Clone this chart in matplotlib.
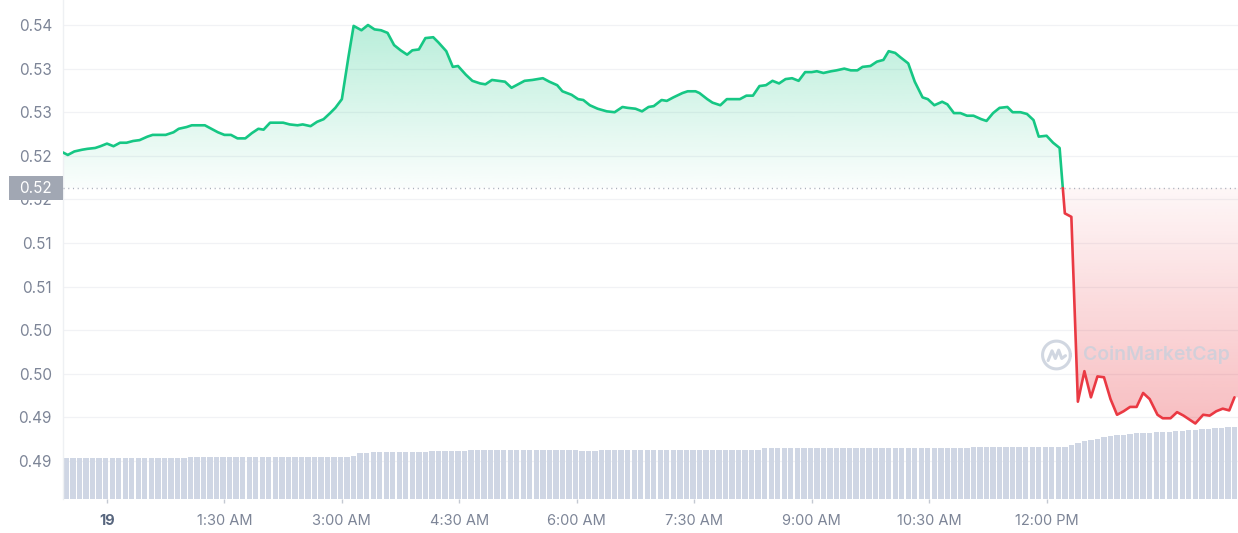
import numpy as np
import matplotlib
matplotlib.use("Agg")
import matplotlib.pyplot as plt
from matplotlib.patches import Rectangle
from matplotlib.path import Path
from matplotlib.transforms import blended_transform_factory, Affine2D, ScaledTranslation

plt.rcParams['font.family'] = ['Inter', 'DejaVu Sans']

# ---------------- data ----------------
# minutes relative to 00:00 of the 19th
price_minutes = [-34, -30, -25, -19, -15, -9, -5, 0, 5, 10, 15, 20, 25, 31, 35, 41, 45, 51, 55, 61,
                 65, 70, 75, 80, 85, 90, 95, 100, 106, 111, 116, 120, 125, 130, 135, 140, 146, 150, 156, 161,
                 166, 171, 175, 180, 185, 189, 195, 200, 205, 210, 215, 220, 225, 230, 234, 239, 244, 250, 254, 260,
                 265, 269, 275, 280, 286, 290, 295, 300, 305, 310, 315, 320, 326, 334, 339, 345, 349, 356, 361, 365,
                 370, 376, 383, 389, 395, 399, 405, 410, 415, 419, 425, 429, 434, 441, 445, 451, 454, 460, 464, 470,
                 475, 480, 485, 490, 495, 500, 505, 510, 515, 520, 525, 530, 535, 540, 544, 549, 555, 559, 565, 570,
                 575, 579, 585, 590, 595, 599, 604, 608, 614, 619, 625, 629, 634, 640, 644, 649, 654, 659, 664, 670,
                 674, 679, 684, 690, 694, 700, 705, 710, 714, 720, 725, 730, 734, 739, 744, 749, 754, 759, 764, 769,
                 774, 779, 784, 789, 794, 799, 805, 809, 815, 820, 825, 829, 834, 840, 845, 850, 855, 860, 864]
prices = [0.5254, 0.5251, 0.5255, 0.5257, 0.5258, 0.5259, 0.5261, 0.5264, 0.5261, 0.5265, 0.5265, 0.5267, 0.5268, 0.5272, 0.5274, 0.5274, 0.5274, 0.5277, 0.5281, 0.5283,
          0.5285, 0.5285, 0.5285, 0.5281, 0.5277, 0.5274, 0.5274, 0.5270, 0.5270, 0.5276, 0.5281, 0.5280, 0.5288, 0.5288, 0.5288, 0.5286, 0.5285, 0.5286, 0.5284, 0.5289,
          0.5292, 0.5299, 0.5305, 0.5315, 0.5363, 0.5399, 0.5394, 0.5400, 0.5395, 0.5394, 0.5391, 0.5377, 0.5371, 0.5366, 0.5371, 0.5372, 0.5385, 0.5386, 0.5380, 0.5370,
          0.5352, 0.5353, 0.5343, 0.5336, 0.5333, 0.5332, 0.5337, 0.5336, 0.5335, 0.5328, 0.5332, 0.5336, 0.5337, 0.5339, 0.5335, 0.5331, 0.5324, 0.5320, 0.5315, 0.5314,
          0.5308, 0.5304, 0.5301, 0.5300, 0.5306, 0.5305, 0.5304, 0.5301, 0.5306, 0.5307, 0.5314, 0.5313, 0.5317, 0.5322, 0.5324, 0.5324, 0.5322, 0.5315, 0.5311, 0.5308,
          0.5315, 0.5315, 0.5315, 0.5319, 0.5319, 0.5330, 0.5331, 0.5336, 0.5333, 0.5338, 0.5339, 0.5336, 0.5346, 0.5346, 0.5347, 0.5345, 0.5347, 0.5348, 0.5350, 0.5348,
          0.5348, 0.5352, 0.5353, 0.5358, 0.5360, 0.5370, 0.5368, 0.5363, 0.5356, 0.5335, 0.5317, 0.5315, 0.5308, 0.5312, 0.5309, 0.5299, 0.5299, 0.5296, 0.5296, 0.5292,
          0.5290, 0.5299, 0.5305, 0.5306, 0.5300, 0.5300, 0.5298, 0.5291, 0.5272, 0.5273, 0.5265, 0.5259, 0.5184, 0.5180, 0.4968, 0.5003, 0.4973, 0.4997, 0.4996, 0.4971,
          0.4953, 0.4957, 0.4962, 0.4962, 0.4978, 0.4971, 0.4953, 0.4949, 0.4949, 0.4956, 0.4952, 0.4948, 0.4943, 0.4953, 0.4952, 0.4957, 0.4960, 0.4958, 0.4973]
baseline_price = 0.5213
baseline_label = "0.52"

# volume bars (5-minute buckets, arbitrary units)
volume_start_minute = -31
volume_step_minutes = 5
volumes = [413, 413, 413, 413, 413, 413, 413, 413, 413, 413, 413, 413, 413, 413, 413, 413, 413, 413, 413,
           423, 423, 423, 423, 423, 423, 423, 423, 423, 423, 423, 423, 423, 423, 423, 423, 423, 423, 423, 423,
           423, 423, 423, 423, 423, 433, 457, 457, 467, 467, 467, 467, 473, 473, 473, 473, 473,
           480, 480, 480, 480, 480, 480,
           490, 490, 490, 490, 490, 490, 490, 490, 490, 490, 490, 490, 490, 490, 490, 490, 490,
           480, 480, 480,
           490, 490, 490, 490, 490, 490, 490, 490, 490, 490, 490, 490, 490, 490, 490, 490, 490, 490, 490, 490,
           490, 490, 490, 490, 490,
           507, 507, 507, 507, 507, 507, 507, 507, 507, 507, 507, 507, 507, 507, 507, 507, 507, 507, 507, 507,
           513, 513, 513, 513, 513, 513, 513, 513, 513, 513, 513, 513,
           523, 523, 523, 523, 523, 523, 523, 523, 523, 523, 523, 523, 523, 523, 523,
           540, 560, 580, 590, 605, 620, 630, 640, 645, 650, 657, 660, 663, 667, 670, 675, 680, 685, 690, 695,
           700, 705, 710, 715, 720, 725]

ytick_values = [0.540, 0.535, 0.530, 0.525, 0.520, 0.515, 0.510, 0.505, 0.500, 0.495, 0.490]
ytick_labels = ["0.54", "0.53", "0.53", "0.52", "0.52", "0.51", "0.51", "0.50", "0.50", "0.49", "0.49"]
xtick_values = [0, 90, 180, 270, 360, 450, 540, 630, 720]
xtick_labels = ["19", "1:30 AM", "3:00 AM", "4:30 AM", "6:00 AM", "7:30 AM", "9:00 AM", "10:30 AM", "12:00 PM"]

# ---------------- styling ----------------
GREEN = "#16c784"
RED = "#ea3943"
BAR = "#cfd6e4"
LABEL = "#7d8597"

W, H = 1238, 533
fig = plt.figure(figsize=(W / 100, H / 100), dpi=100)
ax = fig.add_axes([63 / W, 34 / H, 1175 / W, 499 / H])

t = np.array(price_minutes, dtype=float)
p = np.array(prices, dtype=float)
xmin, xmax = -33.7, 866.7
ymin, ymax = 0.48564, 0.54287
VOL_TOP = 4990.0

# volume bars: x in data (minutes), y as fraction of axes height
vol_trans = blended_transform_factory(ax.transData, Affine2D().scale(1, 1 / VOL_TOP) + ax.transAxes)
vt = volume_start_minute + volume_step_minutes * np.arange(len(volumes))
ax.bar(vt, volumes, width=4.1, color=BAR, linewidth=0, transform=vol_trans, zorder=2)

# split line at baseline crossing
tt, pp = [t[0]], [p[0]]
for i in range(1, len(t)):
    a, b = p[i - 1] - baseline_price, p[i] - baseline_price
    if a * b < 0:
        f = a / (a - b)
        tt.append(t[i - 1] + f * (t[i] - t[i - 1]))
        pp.append(baseline_price)
    tt.append(t[i]); pp.append(p[i])
tt = np.array(tt); pp = np.array(pp)

above = pp >= baseline_price - 1e-12
below = pp <= baseline_price + 1e-12

# fill extends to the right edge of the plot at the last price
tt_f = np.r_[tt, xmax]
pp_f = np.r_[pp, pp[-1]]
above_f = np.r_[above, above[-1]]
below_f = np.r_[below, below[-1]]


def grad_fill(where, top_alpha, bottom_alpha, color, y0, y1):
    poly = ax.fill_between(tt_f, pp_f, baseline_price, where=where, interpolate=True,
                           facecolor="none", edgecolor="none")
    rgb = matplotlib.colors.to_rgb(color)
    n = 256
    img = np.zeros((n, 2, 4))
    img[..., 0], img[..., 1], img[..., 2] = rgb
    img[..., 3] = np.linspace(bottom_alpha, top_alpha, n)[:, None]
    im = ax.imshow(img, extent=[xmin, xmax, y0, y1], origin="lower",
                   aspect="auto", zorder=1, interpolation="bilinear")
    paths = poly.get_paths()
    verts = np.concatenate([pth.vertices for pth in paths])
    codes = np.concatenate([pth.codes if pth.codes is not None else
                            np.r_[Path.MOVETO, [Path.LINETO] * (len(pth.vertices) - 1)]
                            for pth in paths])
    im.set_clip_path(Path(verts, codes), ax.transData)


grad_fill(above_f, 0.30, 0.02, GREEN, baseline_price, pp.max())
grad_fill(below_f, 0.04, 0.33, RED, pp.min(), baseline_price)

ax.plot(np.where(above, tt, np.nan), np.where(above, pp, np.nan), color=GREEN, lw=1.9,
        solid_joinstyle="round", solid_capstyle="round", zorder=4)
ax.plot(np.where(below, tt, np.nan), np.where(below, pp, np.nan), color=RED, lw=1.9,
        solid_joinstyle="round", solid_capstyle="round", zorder=4)

ax.axhline(baseline_price, color="#aab0bb", lw=1.0, ls=(0, (0.8, 2.6)), zorder=3)

ax.set_xlim(xmin, xmax)
ax.set_ylim(ymin, ymax)

ax.set_yticks(ytick_values)
ax.set_yticklabels(ytick_labels)
ax.tick_params(axis="y", length=0, pad=8, labelsize=11, labelcolor=LABEL)
ax.grid(axis="y", color="#f1f2f5", lw=0.9)
ax.set_axisbelow(True)

ax.set_xticks(xtick_values)
ax.set_xticklabels(xtick_labels)
ax.tick_params(axis="x", length=3, width=1, color="#c4c9d2", pad=8, labelsize=10.5, labelcolor=LABEL)
lab0 = ax.get_xticklabels()[0]
lab0.set_fontweight("bold")
lab0.set_color("#58667e")

for s in ["top", "right", "bottom"]:
    ax.spines[s].set_visible(False)
ax.spines["left"].set_color("#eef0f3")
ax.spines["left"].set_linewidth(1)

# current price marker
bt = blended_transform_factory(ax.transAxes, ax.transData)
box = Rectangle((-54 / 1175, baseline_price - 0.00141), 54 / 1175, 0.00282, transform=bt,
                facecolor="#a1a7b3", edgecolor="none", clip_on=False, zorder=10)
ax.add_patch(box)
ax.text(-27 / 1175, baseline_price, baseline_label, transform=bt, ha="center", va="center",
        fontsize=11, color="white", zorder=11, clip_on=False)

# watermark (logo ring + wave, and wordmark)
wm_color = "#c9d0dc"
logo_tr = Affine2D().scale(1 / 72.0) + fig.dpi_scale_trans + ScaledTranslation(0.8455, 0.2886, ax.transAxes)
theta = np.linspace(0, 2 * np.pi, 100)
ax.plot(10 * np.cos(theta), 10 * np.sin(theta), transform=logo_tr, color=wm_color,
        lw=2.2, alpha=0.85, zorder=3, clip_on=False)
wave_x = [-6.0, -3.2, -0.8, 1.6, 3.8, 6.5]
wave_y = [-4.0, 3.0, -2.5, 3.5, -2.5, -0.5]
ax.plot(wave_x, wave_y, transform=logo_tr, color=wm_color, lw=2.2, alpha=0.85,
        zorder=3, clip_on=False, solid_joinstyle="round", solid_capstyle="round")
ax.text(0.8685, 0.2886, "CoinMarketCap", transform=ax.transAxes, ha="left", va="center",
        fontsize=14, fontweight="semibold", color=wm_color, alpha=0.8, zorder=3)

fig.savefig("out.png", dpi=100)
